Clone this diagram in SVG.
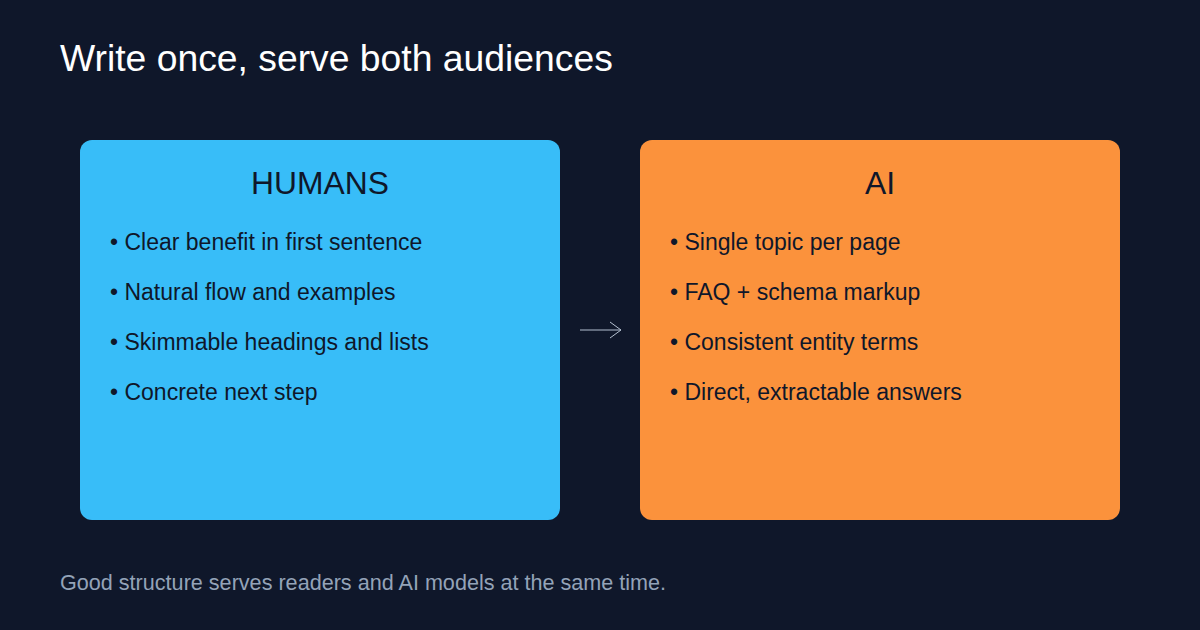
<svg xmlns="http://www.w3.org/2000/svg" width="1200" height="630" viewBox="0 0 1200 630">
<defs>
<style>
text{font-family:"Liberation Sans",Arial,sans-serif}
.title{font-size:37.3px;fill:#ffffff}
.head{font-size:31.8px;fill:#0f172a;text-anchor:middle}
.item{font-size:23px;fill:#0f172a}
.foot{font-size:21.6px;fill:#94a3b8}
</style>
<marker id="arr" viewBox="0 0 12 18" refX="11" refY="9" markerWidth="12" markerHeight="18" markerUnits="userSpaceOnUse" orient="auto">
<path d="M0,1 L11,9 L0,17" fill="none" stroke="#b4c0d0" stroke-width="1"/>
</marker>
</defs>
<rect width="1200" height="630" fill="#0f172a"/>
<text class="title" x="60" y="71">Write once, serve both audiences</text>
<g id="humans">
<rect x="80" y="140" width="480" height="380" rx="12" fill="#38bdf8"/>
<text class="head" x="320" y="194">HUMANS</text>
<text class="item" x="110" y="250">• Clear benefit in first sentence</text>
<text class="item" x="110" y="300">• Natural flow and examples</text>
<text class="item" x="110" y="350">• Skimmable headings and lists</text>
<text class="item" x="110" y="400">• Concrete next step</text>
</g>
<g id="ai">
<rect x="640" y="140" width="480" height="380" rx="12" fill="#fb923c"/>
<text class="head" x="880" y="194">AI</text>
<text class="item" x="670" y="250">• Single topic per page</text>
<text class="item" x="670" y="300">• FAQ + schema markup</text>
<text class="item" x="670" y="350">• Consistent entity terms</text>
<text class="item" x="670" y="400">• Direct, extractable answers</text>
</g>
<g id="connectors">
<line x1="580" y1="330" x2="621" y2="330" stroke="#b4c0d0" stroke-width="1" marker-end="url(#arr)"/>
</g>
<text class="foot" x="60" y="590">Good structure serves readers and AI models at the same time.</text>
</svg>
